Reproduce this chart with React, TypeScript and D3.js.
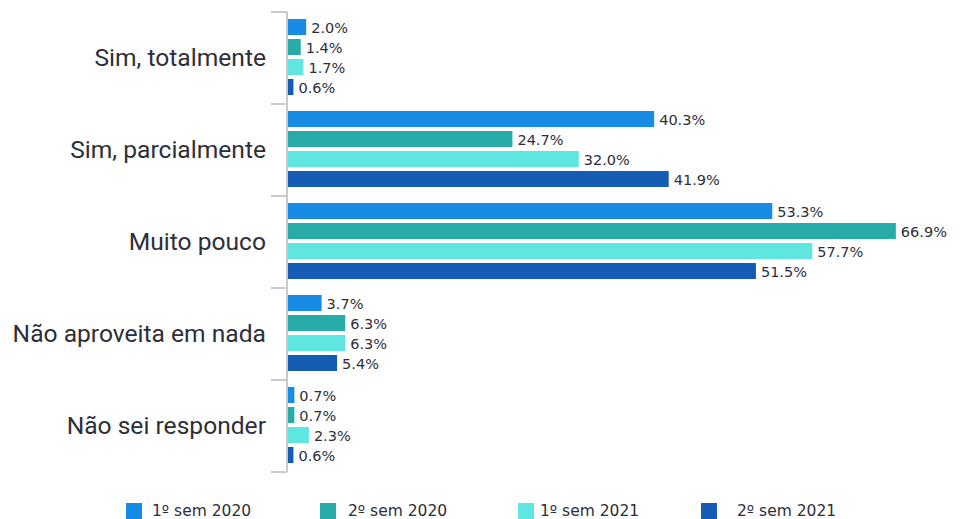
import React from "react";
import * as d3 from "d3";

const categories = [
  "Sim, totalmente",
  "Sim, parcialmente",
  "Muito pouco",
  "Não aproveita em nada",
  "Não sei responder",
];
const seriesNames = ["1º sem 2020", "2º sem 2020", "1º sem 2021", "2º sem 2021"];
const s1 = [2.0, 40.3, 53.3, 3.7, 0.7];
const s2 = [1.4, 24.7, 66.9, 6.3, 0.7];
const s3 = [1.7, 32.0, 57.7, 6.3, 2.3];
const s4 = [0.6, 41.9, 51.5, 5.4, 0.6];
const seriesValues = [s1, s2, s3, s4];
const colors = ["#188CE5", "#27ACAA", "#60E6E1", "#155CB4"];

const W = 960;
const H = 519;
const AXIS_X = 287;
const TOP = 12;
const BOTTOM = 472;
const TEXT = "#2E2E38";
const legendSquareX = [126, 320, 518, 701];
const legendTextX = [152, 348, 540, 737];

export default function App() {
  const y0 = d3.scaleBand<string>().domain(categories).range([TOP, BOTTOM]).padding(0);
  const y1 = d3
    .scaleBand<string>()
    .domain(seriesNames)
    .range([5, 85])
    .paddingInner(0.2)
    .paddingOuter(0.1);
  const x = d3.scaleLinear().domain([0, 70]).range([AXIS_X + 1, AXIS_X + 1 + 70 * 9.086]);

  const ticks = [...categories.map((c) => y0(c) as number), BOTTOM];

  return (
    <svg
      width={W}
      height={H}
      style={{ position: "absolute", left: 0, top: 0, background: "#fff" }}
    >
      <line x1={AXIS_X} x2={AXIS_X} y1={TOP} y2={BOTTOM} stroke="#C9C9D1" strokeWidth={2} />
      {ticks.map((t, i) => (
        <line key={i} x1={271} x2={AXIS_X} y1={t} y2={t} stroke="#C9C9D1" strokeWidth={2} />
      ))}
      {categories.map((c, ci) => {
        const by = y0(c) as number;
        const center = by + y0.bandwidth() / 2;
        return (
          <g key={c}>
            <text
              x={266}
              y={center + 8.3}
              textAnchor="end"
              fontFamily="Roboto, 'Noto Sans', sans-serif"
              fontSize={24.6}
              fill={TEXT}
            >
              {c}
            </text>
            {seriesNames.map((s, si) => {
              const v = seriesValues[si][ci];
              const yy = by + (y1(s) as number);
              const bw = y1.bandwidth();
              return (
                <g key={s}>
                  <rect
                    x={x(0)}
                    y={yy}
                    width={x(v) - x(0)}
                    height={bw}
                    fill={colors[si]}
                  />
                  <text
                    x={x(v) + 5}
                    y={yy + bw / 2 + 5.5}
                    fontFamily="'DejaVu Sans', Verdana, sans-serif"
                    fontSize={14.5}
                    fill={TEXT}
                  >
                    {v.toFixed(1)}%
                  </text>
                </g>
              );
            })}
          </g>
        );
      })}
      {seriesNames.map((s, i) => (
        <g key={s}>
          <rect x={legendSquareX[i]} y={503} width={16} height={16} fill={colors[i]} />
          <text
            x={legendTextX[i]}
            y={516}
            fontFamily="'DejaVu Sans', Verdana, sans-serif"
            fontSize={15.5}
            fill={TEXT}
          >
            {s}
          </text>
        </g>
      ))}
    </svg>
  );
}
